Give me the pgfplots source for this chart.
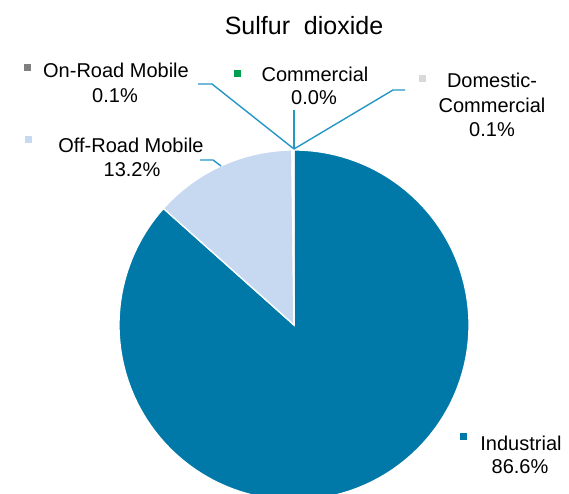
\documentclass[border=0pt]{standalone}
\usepackage{pgfplots}
\pgfplotsset{compat=1.18}
\usepackage{fontspec}
\setmainfont{Liberation Sans}
\definecolor{indblue}{HTML}{0079A8}
\definecolor{offblue}{HTML}{C6D9F1}
\definecolor{ongrey}{HTML}{7F7F7F}
\definecolor{comgreen}{HTML}{00A050}
\definecolor{domgrey}{HTML}{D9D9D9}
\definecolor{leader}{HTML}{2596C6}
\definecolor{txt}{HTML}{333333}
\begin{document}
\begin{tikzpicture}
% shares in percent
\def\vInd{86.6}\def\vOff{13.2}\def\vOn{0.1}\def\vCom{0.0}\def\vDom{0.1}
\def\cx{294}\def\cy{325}\def\R{175}
\pgfmathsetmacro\aA{90}
\pgfmathsetmacro\aB{\aA-3.6*\vInd}
\pgfmathsetmacro\aC{\aB-3.6*\vOff}
\pgfmathsetmacro\aD{\aC-3.6*\vOn}
\pgfmathsetmacro\aE{\aD-3.6*\vCom}
\pgfmathsetmacro\aF{\aE-3.6*\vDom}
\begin{axis}[
  width=569pt, height=494pt, scale only axis,
  xmin=0, xmax=569, ymin=0, ymax=494, y dir=reverse,
  hide axis, clip=true,
  every node/.style={text=txt, inner sep=0pt},
]
% slices
\addplot[fill=indblue, draw=white, line width=1.3pt, domain=\aB:\aA, samples=160, variable=\t]
  ({\cx+\R*cos(\t)},{\cy-\R*sin(\t)}) -- (axis cs:\cx,\cy) -- cycle;
\addplot[fill=offblue, draw=white, line width=1.3pt, domain=\aC:\aB, samples=40, variable=\t]
  ({\cx+\R*cos(\t)},{\cy-\R*sin(\t)}) -- (axis cs:\cx,\cy) -- cycle;
\addplot[fill=ongrey, draw=white, line width=1.3pt, domain=\aD:\aC, samples=3, variable=\t]
  ({\cx+\R*cos(\t)},{\cy-\R*sin(\t)}) -- (axis cs:\cx,\cy) -- cycle;
\addplot[fill=domgrey, draw=white, line width=1.3pt, domain=\aF:\aE, samples=3, variable=\t]
  ({\cx+\R*cos(\t)},{\cy-\R*sin(\t)}) -- (axis cs:\cx,\cy) -- cycle;
% leader lines
\addplot[leader, line width=1.4pt, mark=none] coordinates {(198,84) (212,84) (294,149)};
\addplot[leader, line width=1.4pt, mark=none] coordinates {(294,110) (294,149)};
\addplot[leader, line width=1.4pt, mark=none] coordinates {(294,149) (393,90) (405,90)};
\addplot[leader, line width=1.4pt, mark=none] coordinates {(200,160) (213,160) (221,166)};
% legend keys
\addplot[only marks, mark=square*, mark size=3pt, color=ongrey] coordinates {(27,67)};
\addplot[only marks, mark=square*, mark size=2.8pt, color=comgreen] coordinates {(237,73)};
\addplot[only marks, mark=square*, mark size=3pt, color=domgrey] coordinates {(422,78)};
\addplot[only marks, mark=square*, mark size=3pt, color=offblue] coordinates {(28,139)};
\addplot[only marks, mark=square*, mark size=3pt, color=indblue] coordinates {(463,436)};
% title
\node[anchor=base, font=\fontsize{25}{30}\selectfont] at (axis cs:304,35) {Sulfur\ \ dioxide};
% labels
\begin{scope}[every node/.append style={anchor=base, font=\fontsize{20}{24}\selectfont}]
\node at (axis cs:116,78) {On-Road Mobile};
\node at (axis cs:115,103) {0.1\%};
\node at (axis cs:315,82) {Commercial};
\node at (axis cs:314,105) {0.0\%};
\node at (axis cs:492,88) {Domestic-};
\node at (axis cs:492,113) {Commercial};
\node at (axis cs:492,137) {0.1\%};
\node at (axis cs:131,153) {Off-Road Mobile};
\node at (axis cs:132,177) {13.2\%};
\node at (axis cs:521,450) {Industrial};
\node at (axis cs:520,473) {86.6\%};
\end{scope}
\end{axis}
\pgfresetboundingbox
\path[use as bounding box] (0,0) rectangle (569pt,494pt);
\end{tikzpicture}
\end{document}
